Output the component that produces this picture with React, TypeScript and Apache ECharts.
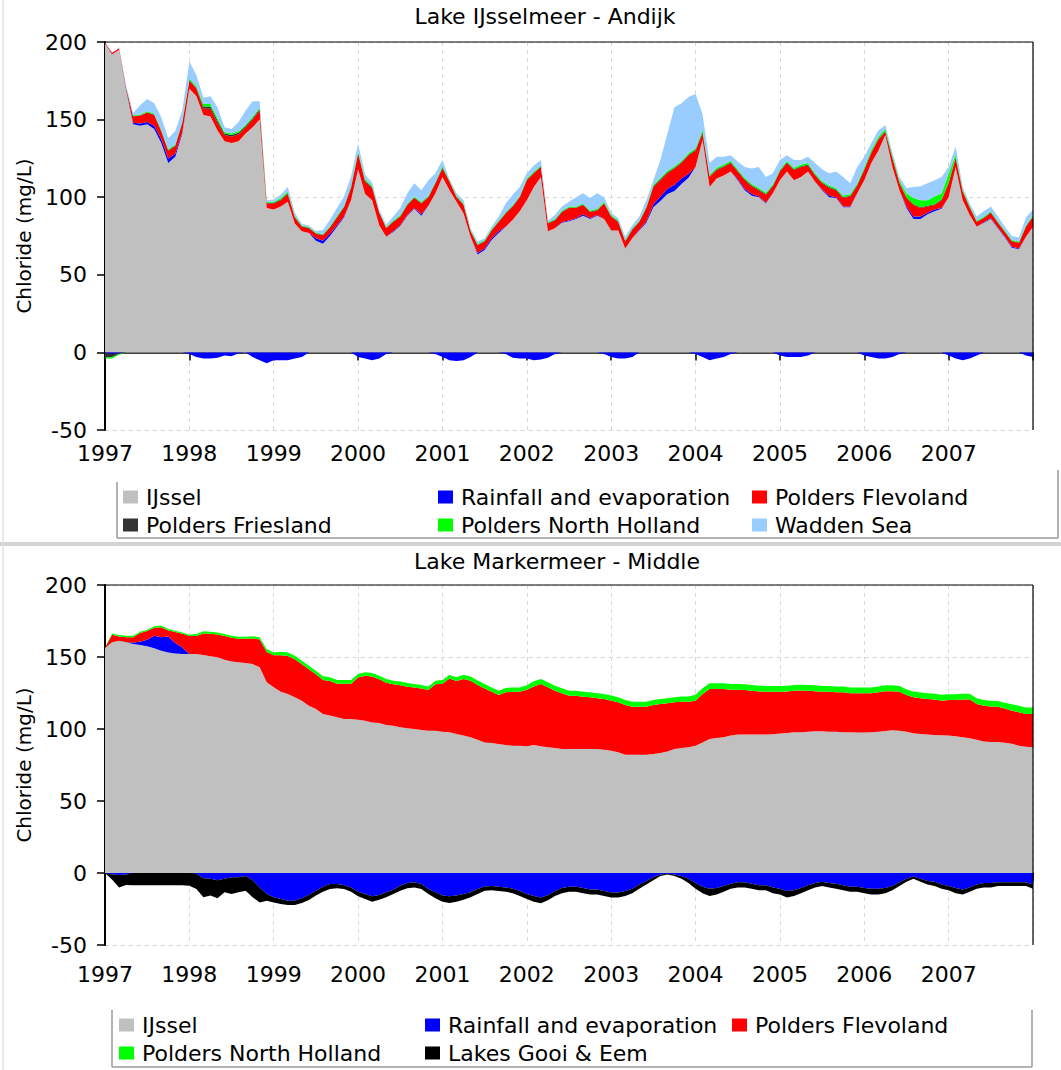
import React, { useEffect, useRef } from "react";
import * as echarts from "echarts";

// Sampling grid: one value per month, Jan 1997 .. Jan 2008 (133 points)
const START_YEAR = 1997;
const N_POINTS = 133;
const MONTHS: string[] = Array.from({ length: N_POINTS }, (_, i) => {
  const y = START_YEAR + Math.floor(i / 12);
  const m = (i % 12) + 1;
  return `${y}-${m < 10 ? "0" + m : m}`;
});

const YEAR_LABELS = ["1997", "1998", "1999", "2000", "2001", "2002", "2003", "2004", "2005", "2006", "2007"];

// ---------- Lake IJsselmeer - Andijk (mg/L contributions) ----------
const TOP_IJSSEL = [
  199, 192, 195, 169, 147, 146, 147, 144, 135, 122,
  126, 141, 170, 165, 153, 152, 143, 136, 135, 136,
  141, 145, 150, 93, 92, 94, 97, 83, 78, 77,
  72, 70, 75, 81, 87, 98, 118, 102, 98, 82,
  74.5, 77.5, 81.5, 88, 92.5, 88, 94.5, 102.5, 113, 104.5,
  97, 89.5, 74.5, 63, 66, 72.5, 77, 81, 85.5, 91,
  98, 106.5, 113, 78, 80, 83.5, 84.5, 86, 88, 86,
  88, 86, 78.5, 78.5, 67, 73.5, 78.5, 83.5, 93.5, 97.5,
  102, 104, 108.5, 112.5, 119.5, 137, 106.5, 112, 114, 116.5,
  111, 104.5, 101, 100, 96, 102.5, 111, 116.5, 111, 113,
  116.5, 110, 104.5, 100, 99.5, 93.5, 93.5, 102.5, 111, 122,
  130, 140, 119.5, 104.5, 93, 86, 86, 89, 91, 92.5,
  100, 119.5, 98, 88.5, 81, 83.5, 86, 80, 74, 67.5,
  66.5, 74.5, 81,
];
const TOP_RAIN = [
  -0.5, -1, -0.5, 0.5, 1, 1.5, 1.5, 2, 2.5, 3,
  2, 1, -1, -3, -4, -4, -3.5, -2, -2.5, -0.5,
  0, -3, -5, -7, -5, -5, -5, -4, -3, 0,
  1.5, 2, 1.5, 1, 0.5, 0, -3, -4, -5, -4,
  -1, 0.5, 0.5, 0.5, 0.5, 1, 0, -1, -3, -5,
  -5.5, -5, -3, 1, 1, 1, 1, -1, -3.5, -4,
  -4, -5, -4.5, -3.5, -1, 0.5, 0.5, 0.5, 1, 0.5,
  0.5, -1, -3, -4, -4, -3, 0.5, 1, 2, 3,
  3.5, 4, 3.5, 2.5, -1, -3, -5, -4, -3, -1,
  0.5, 1, 1, 0.5, 0.5, 0, -2, -3, -3, -3,
  -2, 0, 0.5, 1, 0.5, 0.5, 0.5, 0, -2, -3,
  -4, -4, -3, -1, 1, 1.5, 1.5, 1, 1, 0.5,
  -2, -4, -5, -4, -2, 0.5, 0.5, 0.5, 0.5, 0.5,
  0.5, -2, -3,
];
const TOP_FLEVOLAND = [
  0.5, 1, 1, 1, 4, 5, 6, 7, 5, 5,
  5, 6, 5, 5, 4, 5, 5, 4, 4, 4.5,
  4, 5, 6, 3, 4, 4, 5, 4, 3, 3,
  3, 3.5, 4, 5, 6, 8, 10, 8, 8, 8,
  5.5, 6, 5.5, 6.5, 6.5, 7, 5.5, 6.5, 5.5, 5.5,
  3, 5.5, 3.5, 5, 4.5, 5, 6, 8.5, 8.5, 9,
  13, 9, 6.5, 5, 5, 6.5, 8, 6.5, 6, 4,
  3, 10, 9, 5.5, 4.5, 5.5, 5, 8.5, 11, 10.5,
  10, 10.5, 10, 12, 10.5, 4, 6.5, 5.5, 5.5, 5.5,
  5, 5.5, 5, 4, 5, 4.5, 5.5, 5.5, 6.5, 6.5,
  4, 4, 4, 5, 4.5, 5.5, 6.5, 5, 6.5, 6.5,
  7, 2, 5.5, 4.5, 5.5, 7.5, 5.5, 4, 3, 5,
  9, 5.5, 5.5, 4.5, 3, 2.5, 3.5, 3, 3, 3.5,
  3.5, 6.5, 6.5,
];
const TOP_FRIESLAND = [
  -3, -2, -0.5, 0.2, 0.3, 0.3, 0.3, 0.3, 0.3, 0.3,
  0.4, 0.4, 0.5, 0.5, 1.5, 1.5, 1.5, 1, 1, 1,
  0.8, 0.8, 0.8, 0.5, 0.5, 0.5, 0.5, 0.3, 0.3, 0.3,
  0.3, 0.3, 0.3, 0.3, 0.3, 0.5, 0.5, 0.5, 0.5, 0.3,
  0.3, 0.3, 0.3, 0.3, 0.3, 0.3, 0.3, 0.3, 0.5, 0.3,
  0.3, 0.3, 0.3, 0.3, 0.3, 0.3, 0.3, 0.3, 0.3, 0.3,
  0.3, 0.3, 0.3, 0.3, 0.3, 0.3, 0.3, 0.3, 0.3, 0.3,
  0.3, 0.3, 0.3, 0.3, 0.3, 0.3, 0.3, 0.3, 0.5, 0.5,
  0.5, 0.5, 0.5, 0.5, 0.5, 1, 0.5, 0.5, 0.5, 0.5,
  0.5, 0.5, 0.5, 0.5, 0.5, 0.5, 0.5, 0.5, 0.5, 0.5,
  0.5, 0.5, 0.5, 0.5, 0.5, 0.5, 0.5, 0.5, 0.5, 0.5,
  0.5, 0.5, 0.5, 0.5, 0.5, 0.5, 0.5, 0.5, 0.5, 0.5,
  0.5, 0.5, 0.5, 0.5, 0.3, 0.3, 0.3, 0.3, 0.3, 0.3,
  0.3, 0.3, 0.3,
];
const TOP_NORTH_HOLLAND = [
  -0.5, -1, -0.5, 0.2, 0.5, 0.5, 0.5, 0.7, 0.7, 0.7,
  0.7, 0.8, 1, 1, 1.5, 1.5, 1.5, 1, 1, 1,
  1, 1, 1, 0.5, 0.5, 1, 1, 0.7, 0.5, 0.5,
  0.5, 0.5, 0.7, 0.7, 0.7, 1, 1, 1, 0.8, 0.5,
  0.5, 0.7, 0.7, 0.7, 0.7, 0.7, 0.7, 0.7, 1, 0.7,
  0.7, 0.7, 0.7, 0.7, 0.7, 0.7, 0.7, 0.7, 0.7, 0.7,
  0.7, 0.7, 0.7, 0.7, 0.7, 0.7, 0.7, 0.7, 0.7, 0.7,
  0.7, 0.7, 0.7, 0.7, 0.7, 0.7, 0.7, 0.7, 1, 1,
  1, 1, 1, 1, 1, 1.5, 1, 1, 1, 1,
  1, 1, 1, 1, 1, 1, 1, 1, 1, 1,
  1, 1, 1, 1, 1, 1, 1, 1, 1.5, 1.5,
  1.5, 1.5, 1.5, 1.5, 2.5, 4, 4.5, 3.5, 5, 4,
  6, 2, 1, 1, 0.7, 0.7, 0.7, 0.7, 0.7, 0.7,
  0.7, 0.7, 0.7,
];
const TOP_WADDEN = [
  0.5, 0.5, 0.5, 1, 1.5, 6, 8, 6.5, 8, 7,
  8.5, 7, 11, 7, 4, 5, 7, 3, 3, 6,
  9, 10, 4, 1, 1.5, 2, 3, 2, 1, 1,
  1, 2.5, 4, 5, 6, 6, 5, 3, 2, 1.5,
  1.5, 2.5, 4.5, 6.5, 8.5, 7.5, 10, 5.5, 4, 0.5,
  1.5, 2, 1, 1.5, 1, 1.5, 2.5, 5.5, 6.5, 5.5,
  3.5, 4, 3.5, 1, 2.5, 2.5, 3, 6, 6.5, 8,
  10, 3, 1.5, 1.5, 2, 2, 2.5, 4, 3, 11.5,
  24, 38, 37, 36, 35, 10, 7.5, 7, 5, 3.5,
  5, 7, 10, 13.5, 10, 7, 6, 3.5, 5, 3,
  4, 6.5, 7.5, 8, 10.5, 12, 7, 10.5, 6.5, 4.5,
  4, 2.5, 1.5, 2, 3.5, 7, 9, 11, 10.5, 10.5,
  4, 5, 1.5, 1.5, 2.5, 3.5, 3, 3, 2.5, 2.5,
  2.5, 5, 3.5,
];

// ---------- Lake Markermeer - Middle ----------
const BOT_IJSSEL = [
  156, 160.2, 161.3, 160.2, 159, 158.3, 157.4, 156, 154.4, 153.2,
  152.5, 152, 152, 152, 151.4, 150.5, 149.8, 148.1, 146.8, 146.3,
  145.8, 145.1, 142.8, 132.4, 129, 125.9, 124.3, 122, 119.7, 116.2,
  113.9, 110.4, 109.3, 108.1, 106.9, 106.9, 106.5, 105.8, 104.6, 104.2,
  102.8, 102.3, 101.2, 100.5, 100, 99.3, 98.8, 98.8, 98.1, 97.7,
  96.5, 95.4, 94.2, 92.6, 90.7, 90.3, 89.6, 88.9, 88.4, 88.4,
  88, 88.9, 88, 87.3, 86.8, 86.1, 86.1, 86.1, 86.1, 86.1,
  86.1, 85.6, 84.9, 83.8, 82.2, 82.2, 82.2, 82.2, 82.6, 83.3,
  84.3, 86.1, 86.8, 87.3, 88.4, 90.7, 93.1, 93.8, 94.2, 95.4,
  96.1, 96.1, 96.1, 96.1, 96.1, 96.3, 96.8, 97.2, 97.7, 97.7,
  98.1, 98.4, 98.4, 98.1, 98.1, 97.7, 97.7, 97.5, 97.5, 97.7,
  98.1, 98.6, 99.1, 98.8, 98.1, 97, 96.5, 96.1, 95.8, 95.6,
  95.4, 94.9, 94.2, 93.5, 92.6, 91.4, 91, 91, 90.5, 89.8,
  88.4, 87.7, 87.3,
];
const BOT_RAIN = [
  0, -1, -1.4, -1, 1, 2.3, 4.6, 8.8, 9.3, 11,
  7.2, 4.6, 0, -0.5, -3.7, -4, -5, -4, -3, -3,
  -2, -5, -10, -14.6, -16.9, -18, -19.2, -19.2, -17.6, -15.3,
  -12.3, -9.5, -7.6, -7.6, -8.3, -10, -13, -14.6, -16.2, -15.3,
  -13.4, -11.6, -8.8, -6.9, -6.5, -7.6, -11.1, -13.4, -15.7, -16.2,
  -15.7, -14.6, -13.4, -11.1, -9.3, -9, -9.5, -10, -11, -12.5,
  -14.5, -16, -17, -15.5, -12.5, -10.5, -9.5, -9.5, -10.5, -11.5,
  -11.5, -12.5, -13.5, -13.5, -12.5, -11, -8, -5.5, -3, -1,
  -0.5, -1, -2, -4, -7, -9.5, -11, -10.5, -9, -7.5,
  -6.5, -6.5, -7.5, -8.5, -8.5, -10, -11, -12.5, -12, -10.5,
  -8.5, -7, -6, -7, -7.5, -8.5, -9.5, -9.5, -10.5, -11,
  -11, -10.5, -9, -6.5, -4, -2.5, -4, -5.5, -6, -8,
  -9, -10.5, -11.5, -10, -8, -7, -7, -6.5, -6.5, -6.5,
  -6.5, -6.5, -8,
];
const BOT_FLEVOLAND = [
  0.5, 5.2, 3, 3.6, 3.8, 6, 6, 5.5, 7, 4.2,
  7.6, 9.5, 12.5, 12.5, 14.9, 15.6, 15.8, 16.4, 16.5, 16.3,
  16.8, 17.8, 19.4, 21.1, 22.2, 25.3, 26.4, 26.4, 25.2, 25.3,
  24.1, 23.7, 24.1, 23.4, 24.6, 24.6, 29.2, 31.1, 31.8, 30.3,
  29.4, 28.7, 29.2, 28.9, 28.8, 28.8, 28.3, 32.2, 33.4, 37.3,
  36.9, 39.3, 39.3, 38, 37.5, 35.6, 34, 36.6, 37.5, 37.5,
  39.3, 40.7, 43.3, 41.7, 39.8, 38.7, 37, 37, 36.3, 35.9,
  35.2, 35.2, 34.8, 34.7, 34.5, 33.3, 33.3, 33.3, 34.1, 34.1,
  33.5, 32.4, 32.2, 31.7, 31.3, 33.6, 34.7, 34, 33.6, 31.9,
  31.2, 30.9, 30.5, 30, 29.8, 29.6, 29.1, 28.9, 28.9, 29.1,
  28.5, 27.9, 27.5, 27.8, 27.4, 27.8, 27.1, 27.3, 27.3, 27.1,
  27.4, 27.7, 27.2, 27.1, 25.5, 25, 24.8, 24.7, 24.6, 24.1,
  24.7, 25.2, 26.2, 26.9, 24.8, 24.8, 24.7, 24.5, 23.8, 22.9,
  23.2, 22.7, 23.1,
];
const BOT_NORTH_HOLLAND = [
  0.2, 1, 1, 1, 1, 1, 1, 1, 1.2, 1,
  1, 1, 1, 1.5, 1.5, 1.5, 1.5, 1.5, 1.5, 1.5,
  1.5, 1.5, 1.5, 2, 2, 2.5, 2.5, 2.5, 2.5, 2.5,
  2.5, 2.5, 2.5, 2.5, 2.5, 2.5, 2.5, 2.5, 2.5, 2.5,
  2.5, 2.5, 2.5, 2.5, 2.5, 2.5, 2.5, 2.5, 2.5, 2.5,
  2.5, 3, 3, 3, 3, 3, 3, 3, 3, 3,
  3, 3.5, 3.5, 3.5, 3.5, 3.5, 3.5, 3.5, 3.5, 3.5,
  3.5, 3.5, 3.5, 3.5, 3.5, 3.5, 3.5, 3.5, 3.5, 3.5,
  3.5, 3.5, 3.5, 3.5, 4, 4, 4, 4, 4, 4,
  4, 4, 4, 4, 4, 4, 4, 4, 4, 4,
  4, 4, 4, 4, 4, 4, 4, 4, 4, 4,
  4, 4, 4, 4, 4, 4, 4, 4, 4, 4,
  4, 4, 4, 4, 4, 4, 4, 4, 4, 4.5,
  4.5, 4.5, 4.5,
];
const BOT_GOOI_EEM = [
  0, -3.5, -8.6, -7.3, -8.5, -8.5, -8.5, -8.5, -8.5, -8.5,
  -8.5, -8.5, -8.8, -10.6, -13.2, -11.7, -12.6, -9.4, -11.6, -10.4,
  -10.3, -11.9, -10.4, -4.6, -3.5, -3.5, -3, -3, -3.2, -3.4,
  -3.4, -3.5, -3.5, -3, -2.8, -3, -3.2, -3.4, -3.7, -3.2,
  -3.5, -3, -3.5, -3.7, -3.5, -3.5, -3.5, -4.2, -4.2, -4.6,
  -4.2, -3.9, -3.5, -3.5, -3, -3, -3, -3, -3, -3.5,
  -3.5, -4, -4, -3.5, -3.5, -3.5, -3.5, -3.5, -3.5, -3.5,
  -3.5, -3.5, -3.5, -3.5, -3.5, -3, -3, -2.5, -2, -1,
  -0.5, -1, -2, -3, -4, -4.5, -5, -4.5, -4, -3.5,
  -3.5, -3.5, -3.5, -3.5, -3.5, -4, -4, -4.5, -4, -3.5,
  -3.5, -3, -3, -3, -3.5, -3.5, -3.5, -3.5, -3.5, -4,
  -4, -3.5, -3, -2.5, -2, -1.5, -2, -2.5, -3, -3,
  -3, -3.5, -3.5, -3, -3, -3, -3, -2.5, -2.5, -2.5,
  -2.5, -2.5, -3,
];

const COLORS: Record<string, string> = {
  "IJssel": "#c0c0c0",
  "Rainfall and evaporation": "#0000ff",
  "Polders Flevoland": "#ff0000",
  "Polders Friesland": "#333333",
  "Polders North Holland": "#00ff00",
  "Wadden Sea": "#99ccff",
  "Lakes Gooi & Eem": "#000000",
};

// A contribution that changes sign is drawn as two stacked pieces (above 0 on the
// positive stack, below 0 on the negative stack) so the areas do not cross.
const EPS = 1e-6;
const positivePart = (vals: number[]) => vals.map((v) => (v > 0 ? v : 0));
const negativePart = (vals: number[]) => vals.map((v) => (v < 0 ? v : -EPS));

const TOP_SERIES: [string, number[]][] = [
  ["IJssel", TOP_IJSSEL],
  ["Rainfall and evaporation", positivePart(TOP_RAIN)],
  ["Rainfall and evaporation", negativePart(TOP_RAIN)],
  ["Polders Flevoland", TOP_FLEVOLAND],
  ["Polders Friesland", positivePart(TOP_FRIESLAND)],
  ["Polders Friesland", negativePart(TOP_FRIESLAND)],
  ["Polders North Holland", positivePart(TOP_NORTH_HOLLAND)],
  ["Polders North Holland", negativePart(TOP_NORTH_HOLLAND)],
  ["Wadden Sea", TOP_WADDEN],
];
const BOT_SERIES: [string, number[]][] = [
  ["IJssel", BOT_IJSSEL],
  ["Rainfall and evaporation", positivePart(BOT_RAIN)],
  ["Rainfall and evaporation", negativePart(BOT_RAIN)],
  ["Polders Flevoland", BOT_FLEVOLAND],
  ["Polders North Holland", BOT_NORTH_HOLLAND],
  ["Lakes Gooi & Eem", negativePart(BOT_GOOI_EEM)],
];

const TOP_LEGEND: [string, number, number][] = [
  ["IJssel", 123, 497],
  ["Rainfall and evaporation", 438, 497],
  ["Polders Flevoland", 752, 497],
  ["Polders Friesland", 123, 525],
  ["Polders North Holland", 438, 525],
  ["Wadden Sea", 752, 525],
];
const BOT_LEGEND: [string, number, number][] = [
  ["IJssel", 119, 1025],
  ["Rainfall and evaporation", 425, 1025],
  ["Polders Flevoland", 732, 1025],
  ["Polders North Holland", 119, 1053],
  ["Lakes Gooi & Eem", 425, 1053],
];

const FONT = "DejaVu Sans, Liberation Sans, Arial, sans-serif";

function buildOption() {
  const grids = [
    { left: 105, top: 42, width: 928, height: 388 },
    { left: 105, top: 585, width: 928, height: 360 },
  ].map((g) => ({ ...g, show: false }));

  const isYearStart = (idx: number) => idx % 12 === 0;

  const xAxes = [0, 1].map((gi) => ({
    type: "category",
    gridIndex: gi,
    data: MONTHS,
    boundaryGap: false,
    axisLine: { show: true, lineStyle: { color: "#000", width: 1.5 } },
    axisTick: { show: true, length: 8, interval: isYearStart, lineStyle: { color: "#000", width: 1.5 } },
    axisLabel: {
      color: "#000",
      fontSize: 22,
      fontFamily: FONT,
      margin: gi === 0 ? 12 : 18,
      interval: isYearStart,
      formatter: (_v: string, idx: number) => (idx % 12 === 0 && YEAR_LABELS[idx / 12] ? YEAR_LABELS[idx / 12] : ""),
    },
    splitLine: { show: true, interval: isYearStart, lineStyle: { color: "#d8d8d8", type: [4, 4], width: 1 } },
  }));

  const mainY = (gi: number) => ({
    type: "value",
    gridIndex: gi,
    min: -50,
    max: 200,
    interval: 50,
    name: "Chloride (mg/L)",
    nameLocation: "middle",
    nameRotate: 90,
    nameGap: 68,
    nameTextStyle: { fontSize: 20, fontFamily: FONT, color: "#000" },
    axisLine: { show: true, lineStyle: { color: "#000", width: 2 } },
    axisTick: { show: true, length: 8, lineStyle: { color: "#000", width: 1.5 } },
    axisLabel: { color: "#000", fontSize: 22, fontFamily: FONT, margin: 18 },
    splitLine: { show: false },
  });
  // helper axes carrying the single dashed horizontal grid line (100 top, 150 bottom)
  const helperY = (gi: number, interval: number) => ({
    type: "value",
    gridIndex: gi,
    min: -50,
    max: 200,
    interval,
    position: "left",
    axisLine: { show: false },
    axisTick: { show: false },
    axisLabel: { show: false },
    splitLine: { show: true, lineStyle: { color: "#d8d8d8", type: [4, 4], width: 1 } },
  });

  const mk = (list: [string, number[]][], gi: number, stack: string) =>
    list.map(([name, vals]) => ({
      name,
      type: "line",
      xAxisIndex: gi,
      yAxisIndex: gi * 2,
      stack,
      data: vals,
      symbol: "none",
      showSymbol: false,
      silent: true,
      itemStyle: { color: COLORS[name] },
      lineStyle: { width: 0, color: COLORS[name] },
      areaStyle: { color: COLORS[name], opacity: 1 },
      z: 3,
    }));

  const legendGraphics = (items: [string, number, number][]) =>
    items.flatMap(([name, x, cy]) => [
      { type: "rect", silent: true, shape: { x, y: cy - 6.5, width: 15, height: 13 }, style: { fill: COLORS[name] } },
      {
        type: "text",
        silent: true,
        x: x + 23,
        y: cy,
        style: {
          text: name,
          fill: "#000",
          fontSize: 22,
          fontFamily: FONT,
          align: "left",
          verticalAlign: "middle",
          textAlign: "left",
          textVerticalAlign: "middle",
        },
      },
    ]);

  const line = (x1: number, y1: number, x2: number, y2: number, stroke: string, w: number, z = 10) => ({
    type: "line",
    silent: true,
    z,
    shape: { x1, y1, x2, y2 },
    style: { stroke, lineWidth: w },
  });

  return {
    animation: false,
    backgroundColor: "#fff",
    title: [
      { text: "Lake IJsselmeer - Andijk", left: 545, top: 5, textAlign: "center", padding: 0,
        textStyle: { fontSize: 22, fontWeight: "normal", fontFamily: FONT, color: "#000" } },
      { text: "Lake Markermeer - Middle", left: 557, top: 550, textAlign: "center", padding: 0,
        textStyle: { fontSize: 22, fontWeight: "normal", fontFamily: FONT, color: "#000" } },
    ],
    grid: grids,
    xAxis: xAxes,
    yAxis: [mainY(0), helperY(0, 150), mainY(1), helperY(1, 200)],
    series: [...mk(TOP_SERIES, 0, "andijk"), ...mk(BOT_SERIES, 1, "markermeer")],
    graphic: [
      // plot frames (top and right edges)
      line(105, 42, 1033, 42, "#000", 1.2),
      line(1033, 42, 1033, 430, "#000", 1.2),
      line(105, 585, 1033, 585, "#000", 1.2),
      line(1033, 585, 1033, 945, "#000", 1.2),
      // outer frame pieces
      line(3, 0, 3, 1070, "#e2e2e2", 1.5),
      { type: "rect", silent: true, shape: { x: 0, y: 542, width: 1061, height: 4 }, style: { fill: "#d2d2d2" } },
      // top legend box
      line(117, 482, 117, 538, "#9a9a9a", 1.5),
      line(117, 538, 1058, 538, "#9a9a9a", 1.5),
      line(1058, 470, 1058, 538, "#9a9a9a", 1.5),
      // bottom legend box
      line(112, 1010, 112, 1067, "#9a9a9a", 1.5),
      line(112, 1067, 1032, 1067, "#9a9a9a", 1.5),
      line(1032, 1010, 1032, 1067, "#9a9a9a", 1.5),
      ...legendGraphics(TOP_LEGEND),
      ...legendGraphics(BOT_LEGEND),
    ],
  };
}

export default function App() {
  const ref = useRef<HTMLDivElement | null>(null);
  useEffect(() => {
    if (!ref.current) return;
    const chart = echarts.init(ref.current, undefined, { renderer: "svg" });
    chart.setOption(buildOption() as any);
    return () => chart.dispose();
  }, []);
  return (
    <div
      ref={ref}
      style={{ position: "fixed", left: 0, top: 0, width: 1061, height: 1070, background: "#fff" }}
    />
  );
}
